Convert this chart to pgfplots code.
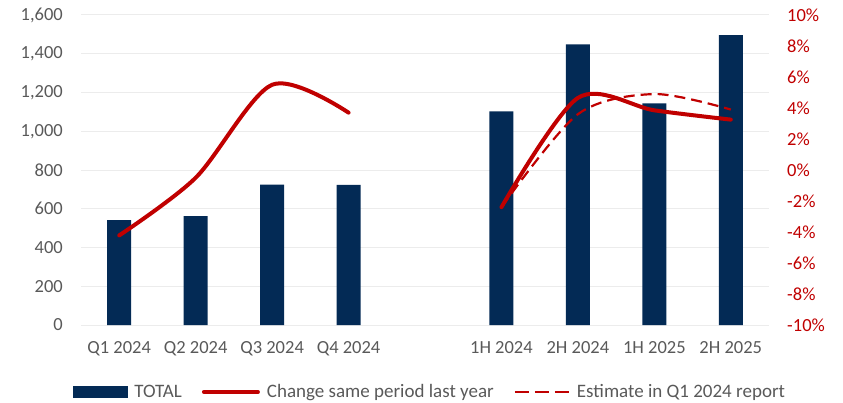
\documentclass[border=0pt]{standalone}
\usepackage{fontspec}
\setmainfont{Carlito}
\usepackage{pgfplots}
\pgfplotsset{compat=1.18}
\definecolor{navy}{HTML}{032A55}
\definecolor{dred}{HTML}{C00000}
\definecolor{tgray}{HTML}{595959}
\definecolor{gridc}{HTML}{ECECEC}
\begin{document}
\begin{tikzpicture}
\begin{axis}[name=main, scale only axis, width=688pt, height=310pt,
  xmin=-0.5, xmax=8.5, ymin=0, ymax=1600,
  xtick={0,1,2,3,5,6,7,8},
  xticklabels={Q1 2024,Q2 2024,Q3 2024,Q4 2024,1H 2024,2H 2024,1H 2025,2H 2025},
  ytick={0,200,...,1600},
  yticklabels={0,200,400,600,800,{1,000},{1,200},{1,400},{1,600}},
  axis line style={draw=none}, major tick length=0pt,
  ymajorgrids, grid style={color=gridc, line width=1pt},
  tick label style={font=\fontsize{18.5}{22}\selectfont, text=tgray, inner sep=0pt},
  yticklabel style={xshift=-18pt},
  xticklabel style={yshift=-16pt},
  ]
\addplot[ybar, bar width=24pt, fill=navy, draw=none] coordinates {(0,541)(1,562)(2,725)(3,723)(5,1103)(6,1448)(7,1144)(8,1496)};
\end{axis}
\begin{axis}[scale only axis, width=688pt, height=310pt,
  xmin=-0.5, xmax=8.5, ymin=-10, ymax=10,
  axis y line*=right, axis x line=none,
  ytick={-10,-8,...,10},
  yticklabels={-10\%,-8\%,-6\%,-4\%,-2\%,0\%,2\%,4\%,6\%,8\%,10\%},
  axis line style={draw=none}, major tick length=0pt,
  tick label style={font=\fontsize{18.5}{22}\selectfont, text=dred, inner sep=0pt},
  yticklabel style={xshift=18pt},
  legend columns=3,
  legend style={at={(0.508,-0.216)}, anchor=center, draw=none, fill=none,
    font=\fontsize{19}{22}\selectfont, text=tgray, inner sep=0pt,
    nodes={inner sep=3pt},
    /tikz/every odd column/.append style={column sep=4pt},
    /tikz/every even column/.append style={column sep=17pt}},
  ]
\addlegendimage{legend image code/.code={\fill[navy] (0pt,-5.5pt) rectangle (54pt,5.5pt);}}
\addlegendentry{TOTAL}
\addplot[dred, line width=4pt, smooth, line cap=round,
  legend image code/.code={\draw[dred, line width=4pt, line cap=round] (0pt,0pt) -- (54pt,0pt);}]
  coordinates {(0,-4.22)(1,-0.5)(2,5.5)(3,3.7)};
\addlegendentry{Change same period last year}
\addplot[dred, line width=2.2pt, smooth, dash pattern=on 11pt off 6pt,
  legend image code/.code={\draw[dred, line width=2.2pt, dash pattern=on 14pt off 6pt] (0pt,0pt) -- (54pt,0pt);}]
  coordinates {(5,-2.4)(6,3.6)(7,4.9)(8,3.9)};
\addlegendentry{Estimate in Q1 2024 report}
\addplot[dred, line width=4pt, smooth, line cap=round, forget plot]
  coordinates {(5,-2.4)(6,4.65)(7,3.85)(8,3.25)};
\end{axis}
\pgfresetboundingbox
\path ([xshift=-81pt,yshift=-77pt]main.south west) rectangle ([xshift=74pt,yshift=15pt]main.north east);
\end{tikzpicture}
\end{document}
